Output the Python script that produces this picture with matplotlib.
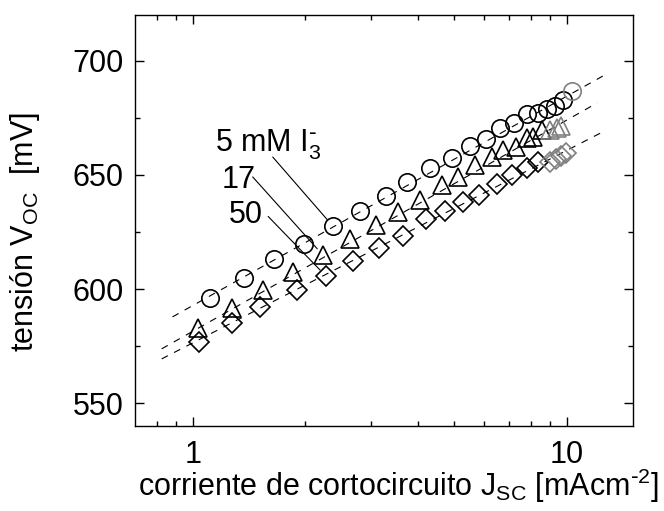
import matplotlib
matplotlib.use('Agg')
import matplotlib.pyplot as plt
from matplotlib.ticker import FixedLocator, NullFormatter, MultipleLocator

plt.rcParams['font.family'] = 'Liberation Sans'
plt.rcParams['mathtext.default'] = 'regular'
plt.rcParams['lines.scale_dashes'] = False

# 5 mM I3- (circulos)
j_5 = [1.108, 1.367, 1.645, 1.980, 2.366, 2.796, 3.282, 3.736, 4.305, 4.930,
       5.508, 6.080, 6.628, 7.225, 7.828, 8.379, 8.856, 9.304, 9.773, 10.33]
v_5 = [596.1, 604.9, 613.2, 619.7, 627.6, 634.2, 640.7, 646.9, 653.0, 657.4,
       662.6, 665.7, 670.6, 672.7, 676.7, 677.1, 678.9, 680.2, 682.8, 686.7]
grey_5 = 1

# 17 mM (triangulos)
j_17 = [1.029, 1.269, 1.537, 1.849, 2.225, 2.629, 3.085, 3.533, 4.047, 4.634,
        5.116, 5.680, 6.310, 6.752, 7.316, 7.828, 8.124, 8.589, 9.022, 9.419, 9.654]
v_17 = [583.0, 591.8, 599.6, 607.5, 614.9, 621.9, 628.1, 633.8, 639.0, 645.6,
        649.1, 654.3, 657.8, 660.9, 662.2, 666.2, 666.6, 669.7, 669.7, 670.5, 671.4]
grey_17 = 3

# 50 mM (rombos)
j_50 = [1.035, 1.272, 1.509, 1.895, 2.267, 2.677, 3.143, 3.644, 4.200, 4.721,
        5.277, 5.823, 6.506, 7.136, 7.828, 8.379, 9.022, 9.361, 9.654, 9.957]
v_50 = [576.8, 585.2, 592.2, 599.6, 605.7, 612.3, 618.0, 623.2, 630.7, 634.2,
        638.1, 641.2, 646.0, 650.0, 653.0, 655.6, 655.6, 657.0, 658.3, 659.6]
grey_50 = 4

# ajustes lineales (extremos)
fit_j_5 = [0.882, 12.9]
fit_v_5 = [587.8, 694.6]
fit_j_17 = [0.825, 12.05]
fit_v_17 = [573.8, 681.5]
fit_j_50 = [0.825, 12.3]
fit_v_50 = [569.4, 668.3]

series = [
    (j_5, v_5, grey_5, fit_j_5, fit_v_5, 'o', 12.5),
    (j_17, v_17, grey_17, fit_j_17, fit_v_17, '^', 13),
    (j_50, v_50, grey_50, fit_j_50, fit_v_50, 'D', 9.8),
]

fig = plt.figure(figsize=(6.64, 5.11), dpi=100)
ax = fig.add_axes([0.2033, 0.1663, 0.7496, 0.8043])

for j, v, n_grey, fj, fv, mk, ms in series:
    ax.plot(fj, fv, color='black', lw=0.8, linestyle=(0, (5, 5)))
    n = len(j) - n_grey
    ax.plot(j[:n], v[:n], mk, mfc='none', mec='black', ms=ms, mew=1.2)
    ax.plot(j[n:], v[n:], mk, mfc='none', mec='#808080', ms=ms, mew=1.2)

# etiquetas con lineas
labels = [r'5 mM I$_3^{\text{-}}$', '17', '50']
label_pos = [(1.143, 660.2), (1.191, 644.3), (1.246, 628.9)]
line_start = [(1.635, 657.8), (1.445, 649.1), (1.589, 631.8)]
for (j, v, _, _, _, _, _), txt, tp, ls in zip(series, labels, label_pos, line_start):
    ax.text(tp[0], tp[1], txt, fontsize=22, ha='left', va='baseline')
    ax.annotate('', xy=(j[4], v[4]), xytext=ls,
                arrowprops=dict(arrowstyle='-', color='black', lw=0.8,
                                shrinkA=0, shrinkB=6))

ax.set_xscale('log')
ax.set_xlim(0.7, 15)
ax.set_ylim(540, 720)
ax.xaxis.set_major_locator(FixedLocator([1, 10]))
ax.set_xticklabels(['1', '10'])
ax.xaxis.set_minor_locator(FixedLocator([0.8, 0.9, 2, 3, 4, 5, 6, 7, 8, 9]))
ax.xaxis.set_minor_formatter(NullFormatter())
ax.yaxis.set_major_locator(MultipleLocator(50))
ax.yaxis.set_minor_locator(MultipleLocator(25))

ax.tick_params(which='both', direction='in', top=True, right=True, width=1.0)
ax.tick_params(which='major', length=6.5, labelsize=22)
ax.tick_params(which='minor', length=3.5)
ax.tick_params(axis='x', pad=10)
ax.tick_params(axis='y', pad=8)
for s in ax.spines.values():
    s.set_linewidth(1.0)

ax.set_xlabel(r'corriente de cortocircuito J$_{SC}$ [mAcm$^{\text{-}2}$]', fontsize=22)
ax.set_ylabel('tensión V$_{OC}$  [mV]', fontsize=22)
ax.xaxis.set_label_coords(0.53, -0.10)
ax.yaxis.set_label_coords(-0.187, 0.472)

plt.savefig('out.png', dpi=100)
